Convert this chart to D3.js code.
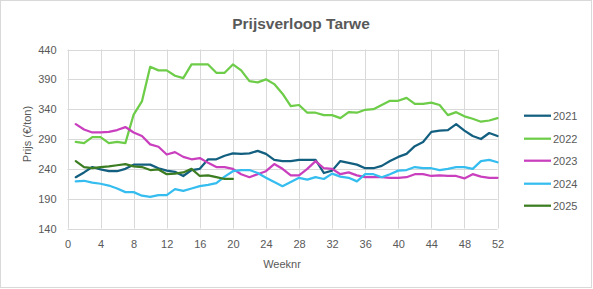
<!DOCTYPE html>
<html><head><meta charset="utf-8">
<script src="https://cdn.jsdelivr.net/npm/d3@7"></script>
<style>html,body{margin:0;padding:0;background:#fff;}svg{display:block;}</style>
</head><body>
<svg id="chart" width="593" height="289"></svg>
<script>
const title = "Prijsverloop Tarwe";
const yTitle = "Prijs (€/ton)";
const xTitle = "Weeknr";
const seriesNames = ["2021", "2022", "2023", "2024", "2025"];
const seriesColors = ["#135f80", "#6dcc48", "#c93fbe", "#35bdef", "#3c7d22"];
const xTicks = [0,4,8,12,16,20,24,28,32,36,40,44,48,52];
const yTicks = [140,190,240,290,340,390,440];

const v2021 = [226,234,243,239,236,236,240,247,247,247,241,237,235,228,238,240,256,256,262,266,265,266,270,265,255,253,253,255,255,255,233,237,253,250,247,241,241,245,253,260,265,278,285,302,304,305,315,304,295,290,300,295];
const v2022 = [285,283,293,293,283,285,283,331,353,411,405,405,396,392,415,415,415,401,401,415,405,387,385,390,382,366,345,347,334,334,330,330,325,335,334,339,340,347,354,354,359,349,349,351,347,330,335,328,324,319,321,325];
const v2023 = [315,306,301,301,302,305,310,301,295,281,277,264,268,260,256,258,250,243,243,240,231,226,231,236,248,240,229,229,240,253,241,240,231,234,229,226,226,226,225,225,226,231,231,228,229,228,228,224,231,227,225,225];
const v2024 = [219,220,217,215,212,207,201,201,195,193,196,196,206,203,207,211,213,216,227,236,238,238,233,225,218,211,218,225,222,226,223,232,227,225,219,231,231,226,231,237,238,243,241,241,238,240,243,243,240,253,255,251];
const v2025 = [253,243,241,243,244,246,248,244,243,238,239,231,232,234,240,228,229,226,223,223];
const allSeries = [v2021, v2022, v2023, v2024, v2025];

const svg = d3.select("#chart");
const textColor = "#595959";
const gridColor = "#d9d9d9";
const font = "'Liberation Sans', Arial, sans-serif";

// chart border
svg.append("rect").attr("x",0.5).attr("y",0.5).attr("width",591).attr("height",287)
  .attr("fill","#fff").attr("stroke","#d9d9d9").attr("stroke-width",1);

const x = d3.scaleLinear().domain([0,52]).range([67.5,497.5]);
const y = d3.scaleLinear().domain([140,440]).range([228.5,49.5]);

// gridlines
const gx = svg.append("g");
gx.selectAll("line.v").data(xTicks).join("line")
  .attr("x1",d=>Math.round(x(d))+0.5).attr("x2",d=>Math.round(x(d))+0.5)
  .attr("y1",y(440)).attr("y2",y(140))
  .attr("stroke",gridColor).attr("stroke-width",1);
gx.selectAll("line.h").data(yTicks).join("line")
  .attr("y1",d=>Math.round(y(d))+0.5).attr("y2",d=>Math.round(y(d))+0.5)
  .attr("x1",x(0)).attr("x2",x(52))
  .attr("stroke",gridColor).attr("stroke-width",1);

// axes (labels via d3 axes, no domain/ticks)
const xAxis = svg.append("g").attr("transform",`translate(0,${y(140)+8})`)
  .call(d3.axisBottom(x).tickValues(xTicks).tickSize(0).tickPadding(4));
xAxis.select(".domain").remove();
xAxis.selectAll("text").attr("fill",textColor).style("font-family",font).style("font-size","11px");

const yAxis = svg.append("g").attr("transform",`translate(${x(0)-7},0)`)
  .call(d3.axisLeft(y).tickValues(yTicks).tickSize(0).tickPadding(4));
yAxis.select(".domain").remove();
yAxis.selectAll("text").attr("fill",textColor).style("font-family",font).style("font-size","11px");

// lines
const line = d3.line().x((d,i)=>x(i+1)).y(d=>y(d)).curve(d3.curveLinear);
allSeries.forEach((vals,k)=>{
  svg.append("path").datum(vals).attr("d",line)
    .attr("fill","none").attr("stroke",seriesColors[k]).attr("stroke-width",2.25)
    .attr("stroke-linejoin","round").attr("stroke-linecap","round");
});

// title
svg.append("text").attr("x",301).attr("y",28.5).attr("text-anchor","middle")
  .attr("fill",textColor).style("font-family",font).style("font-size","15.5px").style("font-weight","bold")
  .text(title);

// axis titles
svg.append("text").attr("transform","translate(30.5,134) rotate(-90)").attr("text-anchor","middle")
  .attr("fill",textColor).style("font-family",font).style("font-size","11px").text(yTitle);
svg.append("text").attr("x",282).attr("y",268).attr("text-anchor","middle")
  .attr("fill",textColor).style("font-family",font).style("font-size","11px").text(xTitle);

// legend
const legendY = [115.7,138.7,160.7,183.7,205.7];
const lg = svg.append("g");
seriesNames.forEach((n,k)=>{
  lg.append("line").attr("x1",524).attr("x2",551).attr("y1",legendY[k]).attr("y2",legendY[k])
    .attr("stroke",seriesColors[k]).attr("stroke-width",2.25);
  lg.append("text").attr("x",553).attr("y",legendY[k]+4).attr("fill",textColor)
    .style("font-family",font).style("font-size","11px").text(n);
});
</script>
</body></html>
